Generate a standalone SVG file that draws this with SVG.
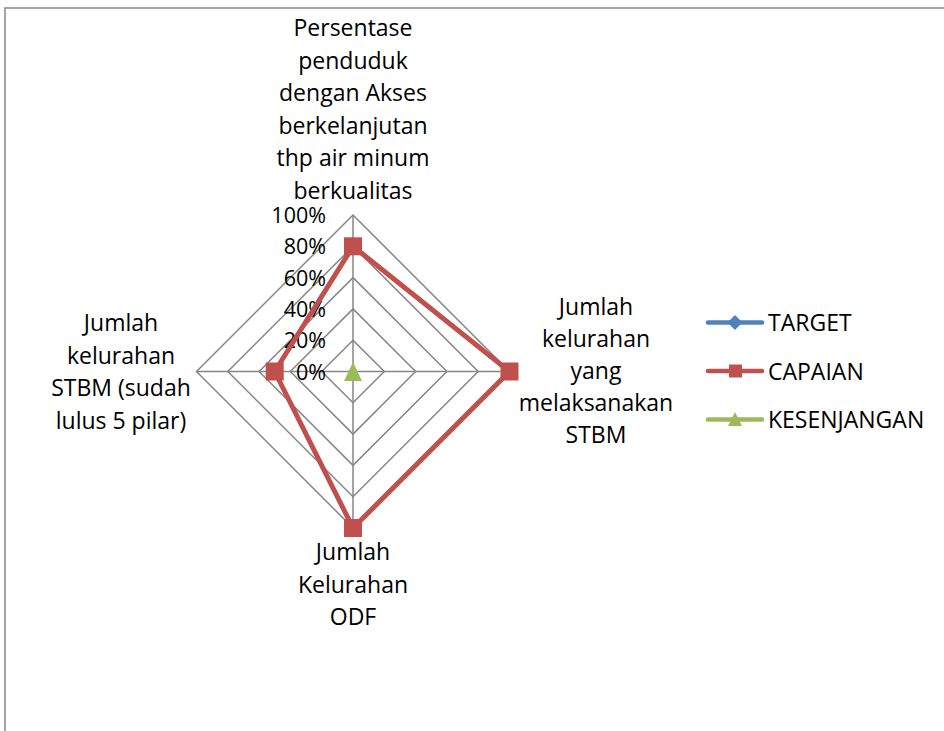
<svg xmlns="http://www.w3.org/2000/svg" width="944" height="731" viewBox="0 0 944 731">
<style>
text{font-family:"Open Sans","Liberation Sans",sans-serif;font-size:23px;fill:#000}
.c{text-anchor:middle}
.r{text-anchor:end;font-size:21.5px}
.grid{fill:none;stroke:#868686;stroke-width:1.5}
.cap{fill:none;stroke:#C0504D;stroke-width:5;stroke-linejoin:round}
.sq{fill:#C0504D}
</style>
<rect width="944" height="731" fill="#fff"/>
<path d="M5,731 V8 H944" fill="none" stroke="#868686" stroke-width="1.5"/>
<g id="grid">
<path class="grid" d="M353,340.2 L384.3,371.5 L353,402.8 L321.7,371.5 Z"/>
<path class="grid" d="M353,308.9 L415.6,371.5 L353,434.1 L290.4,371.5 Z"/>
<path class="grid" d="M353,277.6 L446.9,371.5 L353,465.4 L259.1,371.5 Z"/>
<path class="grid" d="M353,246.3 L478.2,371.5 L353,496.7 L227.8,371.5 Z"/>
<path class="grid" d="M353,215 L509.5,371.5 L353,528 L196.5,371.5 Z"/>
<path class="grid" d="M353,215 V528 M196.5,371.5 H509.5"/>
</g>
<g id="ticks">
<text class="r" x="326" y="223">100%</text>
<text class="r" x="326" y="254">80%</text>
<text class="r" x="326" y="285.5">60%</text>
<text class="r" x="326" y="317">40%</text>
<text class="r" x="326" y="348">20%</text>
<text class="r" x="326" y="379.5">0%</text>
</g>
<g id="label-top">
<text class="c" x="353" y="36">Persentase</text>
<text class="c" x="353" y="68.5">penduduk</text>
<text class="c" x="353" y="101">dengan Akses</text>
<text class="c" x="353" y="133.5">berkelanjutan</text>
<text class="c" x="353" y="166">thp air minum</text>
<text class="c" x="353" y="198.5">berkualitas</text>
</g>
<g id="label-right">
<text class="c" x="596" y="315">Jumlah</text>
<text class="c" x="596" y="347">kelurahan</text>
<text class="c" x="596" y="379">yang</text>
<text class="c" x="596" y="411">melaksanakan</text>
<text class="c" x="596" y="443">STBM</text>
</g>
<g id="label-bottom">
<text class="c" x="353" y="560">Jumlah</text>
<text class="c" x="353" y="592.5">Kelurahan</text>
<text class="c" x="353" y="625">ODF</text>
</g>
<g id="label-left">
<text class="c" x="121" y="331">Jumlah</text>
<text class="c" x="121" y="363.5">kelurahan</text>
<text class="c" x="121" y="396">STBM (sudah</text>
<text class="c" x="121" y="428.5">lulus 5 pilar)</text>
</g>
<g id="series-capaian">
<path class="cap" d="M353,246.3 L509.5,371.5 L353,528 L274.7,371.5 Z"/>
<rect class="sq" x="344" y="237.3" width="18" height="18"/>
<rect class="sq" x="500.5" y="362.5" width="18" height="18"/>
<rect class="sq" x="344" y="519" width="18" height="18"/>
<rect class="sq" x="265.7" y="362.5" width="18" height="18"/>
</g>
<g id="series-kesenjangan">
<path d="M353,362 L362,381 L344,381 Z" fill="#9BBB59"/>
</g>
<g id="legend">
<line x1="708" y1="322.5" x2="762" y2="322.5" stroke="#4F81BD" stroke-width="4.5" stroke-linecap="round"/>
<path d="M735,315 L742.5,322.5 L735,330 L727.5,322.5 Z" fill="#4F81BD"/>
<text x="768" y="331">TARGET</text>
<line x1="708" y1="371" x2="762" y2="371" stroke="#C0504D" stroke-width="4.5" stroke-linecap="round"/>
<rect x="729" y="364.5" width="13" height="13" fill="#C0504D"/>
<text x="768" y="379.5">CAPAIAN</text>
<line x1="708" y1="419.5" x2="762" y2="419.5" stroke="#9BBB59" stroke-width="4.5" stroke-linecap="round"/>
<path d="M735,412 L742,426 L728,426 Z" fill="#9BBB59"/>
<text x="768" y="428">KESENJANGAN</text>
</g>
</svg>
